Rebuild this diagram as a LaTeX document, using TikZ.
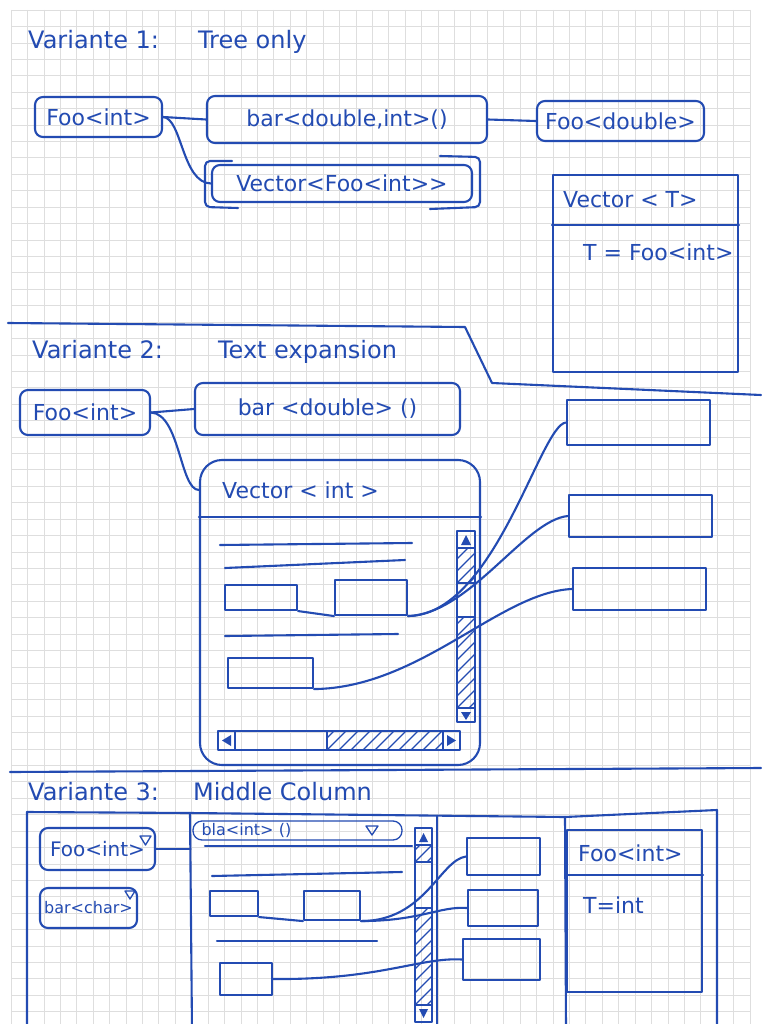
\documentclass[tikz,border=0pt]{standalone}
\usepackage{fontspec}
\setmainfont{DejaVu Sans}
\definecolor{inkc}{RGB}{35,75,178}
\definecolor{gridc}{RGB}{222,222,222}
\newcommand\FBox{\fontsize{22}{24}\selectfont}
\newcommand\FMid{\fontsize{20}{22}\selectfont}
\newcommand\FTitle{\fontsize{24}{26}\selectfont}
\newcommand\FSmall{\fontsize{16}{18}\selectfont}
\newcommand\hatchrect[4]{%
  \begin{scope}
    \clip (#1,#2) rectangle (#3,#4);
    \foreach \k in {-120,-108,...,240}{%
      \draw[hatchline] ({#1+(\k)},#4) -- ++(120,-120);
    }
  \end{scope}}
\begin{document}
\begin{tikzpicture}[x=1pt,y=-1pt,
  pen/.style={draw=inkc, line width=2.1pt, line cap=round, line join=round},
  thinpen/.style={draw=inkc, line width=1.3pt, line cap=round, line join=round},
  rbox/.style={pen, rounded corners=8pt, inner sep=0pt, text=inkc, font=\FBox},
  sbox/.style={pen, inner sep=0pt},
  lbl/.style={text=inkc, font=\FBox, inner sep=0pt, anchor=west},
  ttl/.style={text=inkc, font=\FTitle, inner sep=0pt, anchor=west},
  hatchline/.style={draw=inkc, line width=1.2pt},
]
\useasboundingbox (0,0) rectangle (761,1024);
\fill[white] (0,0) rectangle (761,1024);
% grid paper
\foreach \i in {0,...,45} \draw[gridc, line width=0.6pt] ({11+16.42*\i},10) -- ({11+16.42*\i},1024);
\foreach \j in {0,...,61} \draw[gridc, line width=0.6pt] (11,{10+16.42*\j}) -- (750,{10+16.42*\j});

% ---------------- Variante 1
\node[ttl] (t1) at (28,42) {Variante 1:\hspace{39pt}Tree only};
\node[rbox, minimum width=127pt, minimum height=40pt] (foo1) at (98.5,117) {Foo<int>};
\node[rbox, minimum width=280pt, minimum height=47pt] (bar1) at (347,119.5) {bar<double,int>()};
\node[rbox, minimum width=167pt, minimum height=40pt] (foodbl1) at (620.5,121) {Foo<double>};
\node[rbox, minimum width=260pt, minimum height=37pt] (vec1) at (342,183.5) {Vector<Foo<int>{}>};
\draw[pen, rounded corners=5pt] (232,161) -- (205,161) -- (205,207) -- (238,208);
\draw[pen, rounded corners=5pt] (440,156) -- (480,157) -- (480,207) -- (430,209);
\draw[pen] (foo1.east) -- (bar1.west);
\draw[pen] (foo1.east) .. controls (182,118) and (182,183) .. (vec1.west);
\draw[pen] (bar1.east) -- (foodbl1.west);

\node[sbox, minimum width=185pt, minimum height=197pt] (vt) at (645.5,273.5) {};
\coordinate (vtdiv) at (645.5,225);
\draw[pen] (vt.west |- vtdiv) -- (vt.east |- vtdiv);
\node[lbl] (vttitle) at (563,200) {Vector < T>};
\node[lbl] (vtbody) at (583,252) {T = Foo<int>};

\draw[pen] (8,323) -- (465,327) -- (492,383) -- (761,395);

% ---------------- Variante 2
\node[ttl] (t2) at (32,352) {Variante 2:\hspace{55pt}Text expansion};
\node[rbox, minimum width=130pt, minimum height=45pt] (foo2) at (85,412.5) {Foo<int>};
\node[rbox, minimum width=265pt, minimum height=52pt] (bar2) at (327.5,409) {bar <double> ()};
\draw[pen] (foo2.east) -- (bar2.west);

\node[pen, rounded corners=22pt, minimum width=280pt, minimum height=305pt, inner sep=0pt] (vec2) at (340,612.5) {};
\coordinate (v2div) at (340,517);
\draw[pen] (vec2.west |- v2div) -- (vec2.east |- v2div);
\node[lbl] (v2title) at (222,490) {Vector < int >};
\draw[pen] (foo2.east) .. controls (180,414) and (180,490) .. (vec2.west |- v2title.west);

\draw[pen] (220,545) -- (412,543);
\draw[pen] (225,568) -- (405,560);
\node[sbox, minimum width=72pt, minimum height=25pt] (v2a) at (261,597.5) {};
\node[sbox, minimum width=72pt, minimum height=35pt] (v2b) at (371,597.5) {};
\draw[pen] (v2a.south east) -- (v2b.south west);
\draw[pen] (225,636) -- (398,634);
\node[sbox, minimum width=85pt, minimum height=30pt] (v2c) at (270.5,673) {};

% vertical scrollbar
\hatchrect{457}{548}{475}{583}
\hatchrect{457}{617}{475}{708}
\node[sbox, minimum width=18pt, minimum height=191pt] (v2vs) at (466,626.5) {};
\draw[thinpen] (457,548) -- (475,548);
\draw[thinpen] (457,583) -- (475,583);
\draw[thinpen] (457,617) -- (475,617);
\draw[thinpen] (457,708) -- (475,708);
\fill[inkc] (461,545) -- (471,545) -- (466,535) -- cycle;
\fill[inkc] (461,712) -- (471,712) -- (466,720) -- cycle;
% horizontal scrollbar
\hatchrect{327}{731}{443}{750}
\node[sbox, minimum width=242pt, minimum height=19pt] (v2hs) at (339,740.5) {};
\draw[thinpen] (235,731) -- (235,750);
\draw[thinpen] (327,731) -- (327,750);
\draw[thinpen] (443,731) -- (443,750);
\fill[inkc] (231,735) -- (231,746) -- (222,740.5) -- cycle;
\fill[inkc] (447,735) -- (447,746) -- (456,740.5) -- cycle;

\node[sbox, minimum width=143pt, minimum height=45pt] (R1) at (638.5,422.5) {};
\node[sbox, minimum width=143pt, minimum height=42pt] (R2) at (640.5,516) {};
\node[sbox, minimum width=133pt, minimum height=42pt] (R3) at (639.5,589) {};
\draw[pen] (v2b.south east) .. controls (495,615) and (540,425) .. (R1.west);
\draw[pen] (v2b.south east) .. controls (470,614) and (525,520) .. (R2.west);
\draw[pen] (v2c.south east) .. controls (420,688) and (500,592) .. (R3.west);

\draw[pen] (10,772) -- (761,768);

% ---------------- Variante 3
\node[ttl] (t3) at (28,792) {Variante 3:\hspace{34pt}Middle Column};
\draw[pen] (27,1030) -- (27,812) -- (190,813) -- (565,817) -- (717,810) -- (717,1030);
\draw[pen] (190,813) -- (192,1030);
\draw[pen] (437,816) -- (437,1030);
\draw[pen] (565,817) -- (566,1030);

\node[rbox, minimum width=115pt, minimum height=42pt, font=\FMid] (foo3) at (97.5,849) {Foo<int>\hspace{12pt}};
\draw[thinpen] (140,836) -- (151,836) -- (145.5,845) -- cycle;
\node[rbox, minimum width=97pt, minimum height=40pt, font=\FSmall] (bar3) at (88.5,908) {bar<char>\hspace{4pt}};
\draw[thinpen] (125,891) -- (135,891) -- (130,899) -- cycle;
\coordinate (mid3) at (190.5,849);
\draw[pen] (foo3.east) -- (mid3);

\node[thinpen, rounded corners=9pt, minimum width=209pt, minimum height=19pt, inner sep=0pt, text width=192pt, align=left, text=inkc, font=\FSmall] (combo) at (297.5,830.5) {bla<int> ()};
\draw[thinpen] (366,826) -- (378,826) -- (372,835) -- cycle;
\draw[pen] (205,846) -- (412,846);
\draw[pen] (212,876) -- (402,872);
\node[sbox, minimum width=48pt, minimum height=25pt] (m3a) at (234,903.5) {};
\node[sbox, minimum width=56pt, minimum height=29pt] (m3b) at (332,905.5) {};
\draw[pen] (m3a.south east) -- (m3b.south west);
\draw[pen] (217,941) -- (377,941);
\node[sbox, minimum width=52pt, minimum height=32pt] (m3c) at (246,979) {};

\hatchrect{415}{845}{432}{862}
\hatchrect{415}{908}{432}{1005}
\node[sbox, minimum width=17pt, minimum height=194pt] (m3vs) at (423.5,925) {};
\draw[thinpen] (415,845) -- (432,845);
\draw[thinpen] (415,862) -- (432,862);
\draw[thinpen] (415,908) -- (432,908);
\draw[thinpen] (415,1005) -- (432,1005);
\fill[inkc] (419,842) -- (428,842) -- (423.5,833) -- cycle;
\fill[inkc] (419,1009) -- (428,1009) -- (423.5,1018) -- cycle;

\node[sbox, minimum width=73pt, minimum height=37pt] (L1) at (503.5,856.5) {};
\node[sbox, minimum width=70pt, minimum height=36pt] (L2) at (503,908) {};
\node[sbox, minimum width=77pt, minimum height=41pt] (L3) at (501.5,959.5) {};
\draw[pen] (m3b.south east) .. controls (425,921) and (440,860) .. (L1.west);
\draw[pen] (m3b.south east) .. controls (420,921) and (440,906) .. (L2.west);
\draw[pen] (m3c.east) .. controls (380,980) and (420,957) .. (L3.west);

\node[sbox, minimum width=135pt, minimum height=162pt] (rp3) at (634.5,911) {};
\coordinate (rpdiv) at (634.5,875);
\draw[pen] (rp3.west |- rpdiv) -- (rp3.east |- rpdiv);
\node[lbl] (rptitle) at (578,853) {Foo<int>};
\node[lbl] (rpbody) at (583,905) {T=int};
\end{tikzpicture}
\end{document}
